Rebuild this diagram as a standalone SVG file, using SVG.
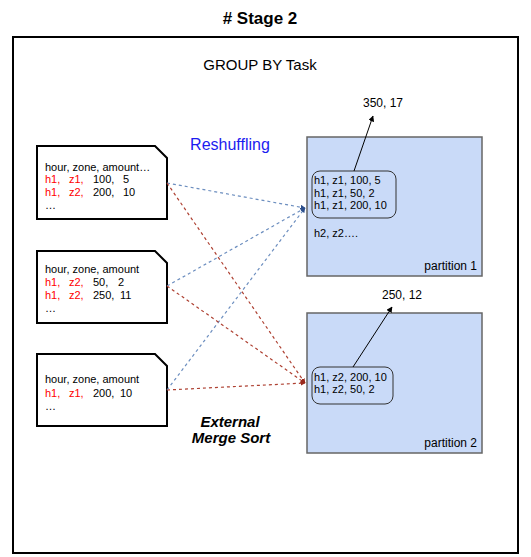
<svg xmlns="http://www.w3.org/2000/svg" width="531" height="557" viewBox="0 0 531 557">
<style>
text{font-family:"Liberation Sans",Arial,sans-serif;fill:#000}
.doc{fill:#fff;stroke:#000;stroke-width:2}
.t{font-size:11px}
.r{fill:#ff0000}
.k{fill:#000}
.part{fill:#c9daf8;stroke:#666;stroke-width:1.5}
.grp{fill:none;stroke:#333;stroke-width:1}
.b{stroke:#6c8ebf;stroke-width:1.2;stroke-dasharray:3 3;fill:none}
.rd{stroke:#ae4132;stroke-width:1.2;stroke-dasharray:3 3;fill:none}
.res{stroke:#000;stroke-width:1;fill:none}
</style>
<defs>
<marker id="mb" viewBox="0 0 10 10" refX="9" refY="5" markerWidth="5" markerHeight="5" orient="auto" markerUnits="userSpaceOnUse"><path d="M0,0 L10,5 L0,10 Z" fill="#2d4f8c"/></marker>
<marker id="mr" viewBox="0 0 10 10" refX="9" refY="5" markerWidth="5" markerHeight="5" orient="auto" markerUnits="userSpaceOnUse"><path d="M0,0 L10,5 L0,10 Z" fill="#9a2a1e"/></marker>
<marker id="mk" viewBox="0 0 10 10" refX="9" refY="5" markerWidth="6" markerHeight="6" orient="auto" markerUnits="userSpaceOnUse"><path d="M0,0 L10,5 L0,10 Z" fill="#000"/></marker>
</defs>

<text x="260" y="24" font-size="17" font-weight="bold" text-anchor="middle"># Stage 2</text>

<g id="frame">
<rect x="13" y="37" width="505" height="516" fill="#fff" stroke="#000" stroke-width="2"/>
<text x="260" y="70" font-size="15" text-anchor="middle">GROUP BY Task</text>
</g>

<text x="230" y="150" font-size="16" text-anchor="middle" style="fill:#1c1cf0">Reshuffling</text>
<text x="230" y="427" font-size="15" font-weight="bold" font-style="italic" text-anchor="middle">External</text>
<text x="231" y="443" font-size="15" font-weight="bold" font-style="italic" text-anchor="middle">Merge Sort</text>

<g id="partition1">
<rect class="part" x="307" y="137" width="175" height="139"/>
<rect class="grp" x="312" y="171" width="84" height="47" rx="8"/>
<text class="t" x="314" y="184">h1, z1, 100, 5</text>
<text class="t" x="314" y="197">h1, z1, 50, 2</text>
<text class="t" x="314" y="209">h1, z1, 200, 10</text>
<text class="t" x="314" y="237">h2, z2….</text>
<text x="477" y="270" font-size="12" text-anchor="end">partition 1</text>
</g>

<g id="partition2">
<rect class="part" x="307" y="313" width="175" height="140"/>
<rect class="grp" x="312" y="367" width="81" height="37" rx="8"/>
<text class="t" x="314" y="381">h1, z2, 200, 10</text>
<text class="t" x="314" y="393">h1, z2, 50, 2</text>
<text x="477" y="447" font-size="12" text-anchor="end">partition 2</text>
</g>

<g id="result1"><text x="383" y="107" font-size="12" text-anchor="middle">350, 17</text></g>
<g id="result2"><text x="402" y="299" font-size="12" text-anchor="middle">250, 12</text></g>

<g id="doc1">
<path class="doc" d="M37,146 H155 L167,158 V219 H37 Z"/>
<text class="t" x="45" y="171">hour, zone, amount…</text>
<text class="t" y="183"><tspan class="r" x="45">h1,</tspan><tspan class="r" x="69">z1,</tspan><tspan class="k" x="93">100,</tspan><tspan class="k" x="123">5</tspan></text>
<text class="t" y="196"><tspan class="r" x="45">h1,</tspan><tspan class="r" x="69">z2,</tspan><tspan class="k" x="93">200,</tspan><tspan class="k" x="123">10</tspan></text>
<text class="t" x="45" y="209">…</text>
</g>

<g id="doc2">
<path class="doc" d="M37,251 H155 L167,263 V323 H37 Z"/>
<text class="t" x="45" y="273">hour, zone, amount</text>
<text class="t" y="286"><tspan class="r" x="45">h1,</tspan><tspan class="r" x="69">z2,</tspan><tspan class="k" x="93">50,</tspan><tspan class="k" x="118">2</tspan></text>
<text class="t" y="299"><tspan class="r" x="45">h1,</tspan><tspan class="r" x="69">z2,</tspan><tspan class="k" x="93">250,</tspan><tspan class="k" x="120">11</tspan></text>
<text class="t" x="45" y="312">…</text>
</g>

<g id="doc3">
<path class="doc" d="M37,354 H155 L167,366 V426 H37 Z"/>
<text class="t" x="45" y="383">hour, zone, amount</text>
<text class="t" y="397"><tspan class="r" x="45">h1,</tspan><tspan class="r" x="69">z1,</tspan><tspan class="k" x="93">200,</tspan><tspan class="k" x="120">10</tspan></text>
<text class="t" x="45" y="410">…</text>
</g>

<g id="connectors">
<line class="b" x1="167" y1="183" x2="305" y2="208" marker-end="url(#mb)"/>
<line class="b" x1="167" y1="286" x2="305" y2="208" marker-end="url(#mb)"/>
<line class="b" x1="167" y1="390" x2="305" y2="208" marker-end="url(#mb)"/>
<line class="rd" x1="167" y1="183" x2="305" y2="383" marker-end="url(#mr)"/>
<line class="rd" x1="167" y1="286" x2="305" y2="383" marker-end="url(#mr)"/>
<line class="rd" x1="167" y1="390" x2="305" y2="383" marker-end="url(#mr)"/>
<line class="res" x1="354" y1="171" x2="373" y2="116" marker-end="url(#mk)"/>
<line class="res" x1="353" y1="367" x2="392" y2="307" marker-end="url(#mk)"/>
</g>
</svg>
